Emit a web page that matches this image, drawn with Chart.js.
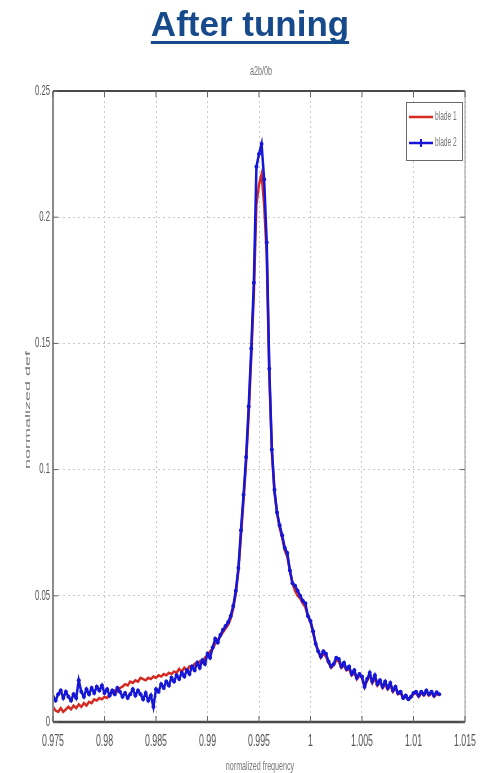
<!DOCTYPE html>
<html>
<head>
<meta charset="utf-8">
<script src="https://cdn.jsdelivr.net/npm/chart.js@4.4.0/dist/chart.umd.min.js"></script>
<style>
html, body { margin: 0; padding: 0; background: #fff; }
#wrap { position: relative; width: 483px; height: 773px; }
</style>
</head>
<body>
<div id="wrap"><canvas id="resonance" width="483" height="773"></canvas></div>
<script>
// normalized frequency samples
const freq = [
  0.97500, 0.97525, 0.97550, 0.97575, 0.97600, 0.97625, 0.97650, 0.97675, 0.97700, 0.97725,
  0.97750, 0.97775, 0.97800, 0.97825, 0.97850, 0.97875, 0.97900, 0.97925, 0.97950, 0.97975,
  0.98000, 0.98025, 0.98050, 0.98075, 0.98100, 0.98125, 0.98150, 0.98175, 0.98200, 0.98225,
  0.98250, 0.98275, 0.98300, 0.98325, 0.98350, 0.98375, 0.98400, 0.98425, 0.98450, 0.98475,
  0.98500, 0.98525, 0.98550, 0.98575, 0.98600, 0.98625, 0.98650, 0.98675, 0.98700, 0.98725,
  0.98750, 0.98775, 0.98800, 0.98825, 0.98850, 0.98875, 0.98900, 0.98925, 0.98950, 0.98975,
  0.99000, 0.99025, 0.99050, 0.99075, 0.99100, 0.99125, 0.99150, 0.99175, 0.99200, 0.99225,
  0.99250, 0.99275, 0.99300, 0.99325, 0.99350, 0.99375, 0.99400, 0.99425, 0.99450, 0.99475,
  0.99500, 0.99525, 0.99550, 0.99575, 0.99600, 0.99625, 0.99650, 0.99675, 0.99700, 0.99725,
  0.99750, 0.99775, 0.99800, 0.99825, 0.99850, 0.99875, 0.99900, 0.99925, 0.99950, 0.99975,
  1.00000, 1.00025, 1.00050, 1.00075, 1.00100, 1.00125, 1.00150, 1.00175, 1.00200, 1.00225,
  1.00250, 1.00275, 1.00300, 1.00325, 1.00350, 1.00375, 1.00400, 1.00425, 1.00450, 1.00475,
  1.00500, 1.00525, 1.00550, 1.00575, 1.00600, 1.00625, 1.00650, 1.00675, 1.00700, 1.00725,
  1.00750, 1.00775, 1.00800, 1.00825, 1.00850, 1.00875, 1.00900, 1.00925, 1.00950, 1.00975,
  1.01000, 1.01025, 1.01050, 1.01075, 1.01100, 1.01125, 1.01150, 1.01175, 1.01200, 1.01225,
  1.01250
];

// blade 1 (red)
const blade1 = [
  0.0060, 0.0045, 0.0040, 0.0055, 0.0040, 0.0050, 0.0060, 0.0050, 0.0065, 0.0055,
  0.0070, 0.0060, 0.0075, 0.0065, 0.0080, 0.0075, 0.0090, 0.0085, 0.0095, 0.0090,
  0.0100, 0.0095, 0.0110, 0.0115, 0.0125, 0.0120, 0.0135, 0.0140, 0.0150, 0.0145,
  0.0160, 0.0155, 0.0165, 0.0160, 0.0175, 0.0170, 0.0165, 0.0175, 0.0170, 0.0180,
  0.0175, 0.0185, 0.0180, 0.0190, 0.0185, 0.0195, 0.0190, 0.0200, 0.0195, 0.0210,
  0.0200, 0.0215, 0.0205, 0.0220, 0.0215, 0.0230, 0.0225, 0.0240, 0.0235, 0.0255,
  0.0265, 0.0280, 0.0290, 0.0310, 0.0325, 0.0340, 0.0355, 0.0370, 0.0385, 0.0410,
  0.0450, 0.0510, 0.0600, 0.0740, 0.0880, 0.1030, 0.1220, 0.1450, 0.1700, 0.2050,
  0.2130, 0.2170, 0.2050, 0.1850, 0.1380, 0.1070, 0.0910, 0.0830, 0.0770, 0.0730,
  0.0680, 0.0655, 0.0600, 0.0550, 0.0520, 0.0500, 0.0490, 0.0470, 0.0455, 0.0420,
  0.0395, 0.0355, 0.0310, 0.0280, 0.0255, 0.0270, 0.0260, 0.0235, 0.0215, 0.0225,
  0.0245, 0.0240, 0.0215, 0.0225, 0.0205, 0.0210, 0.0185, 0.0195, 0.0170, 0.0185,
  0.0175, 0.0140, 0.0165, 0.0185, 0.0155, 0.0175, 0.0145, 0.0160, 0.0135, 0.0150,
  0.0130, 0.0145, 0.0120, 0.0135, 0.0110, 0.0115, 0.0095, 0.0100, 0.0090, 0.0098,
  0.0110, 0.0115, 0.0100, 0.0115, 0.0105, 0.0120, 0.0105, 0.0115, 0.0100, 0.0112,
  0.0105
];

// blade 2 (blue, with markers)
const blade2 = [
  0.0100, 0.0085, 0.0110, 0.0125, 0.0095, 0.0120, 0.0100, 0.0085, 0.0110, 0.0095,
  0.0165, 0.0120, 0.0100, 0.0130, 0.0110, 0.0135, 0.0115, 0.0140, 0.0125, 0.0145,
  0.0115, 0.0130, 0.0105, 0.0125, 0.0110, 0.0135, 0.0120, 0.0100, 0.0115, 0.0095,
  0.0110, 0.0130, 0.0105, 0.0125, 0.0110, 0.0090, 0.0115, 0.0085, 0.0105, 0.0060,
  0.0130, 0.0120, 0.0150, 0.0135, 0.0160, 0.0145, 0.0175, 0.0160, 0.0185, 0.0170,
  0.0195, 0.0180, 0.0205, 0.0190, 0.0220, 0.0205, 0.0235, 0.0215, 0.0245, 0.0230,
  0.0270, 0.0255, 0.0295, 0.0330, 0.0315, 0.0345, 0.0365, 0.0380, 0.0395, 0.0420,
  0.0460, 0.0520, 0.0610, 0.0760, 0.0900, 0.1050, 0.1250, 0.1480, 0.1740, 0.2200,
  0.2250, 0.2290, 0.2150, 0.1900, 0.1400, 0.1080, 0.0920, 0.0830, 0.0780, 0.0740,
  0.0690, 0.0670, 0.0600, 0.0550, 0.0540, 0.0520, 0.0500, 0.0480, 0.0470, 0.0420,
  0.0400, 0.0360, 0.0310, 0.0280, 0.0260, 0.0280, 0.0270, 0.0240, 0.0220, 0.0230,
  0.0255, 0.0250, 0.0220, 0.0235, 0.0210, 0.0220, 0.0190, 0.0205, 0.0175, 0.0190,
  0.0180, 0.0140, 0.0170, 0.0195, 0.0160, 0.0185, 0.0150, 0.0165, 0.0140, 0.0160,
  0.0135, 0.0155, 0.0125, 0.0140, 0.0115, 0.0120, 0.0095, 0.0105, 0.0090, 0.0100,
  0.0115, 0.0120, 0.0105, 0.0120, 0.0110, 0.0125, 0.0110, 0.0120, 0.0105, 0.0118,
  0.0110
];

const xTicks = [0.975, 0.98, 0.985, 0.99, 0.995, 1, 1.005, 1.01, 1.015];
const xTickLabels = ['0.975', '0.98', '0.985', '0.99', '0.995', '1', '1.005', '1.01', '1.015'];
const yTicks = [0, 0.05, 0.1, 0.15, 0.2, 0.25];
const yTickLabels = ['0', '0.05', '0.1', '0.15', '0.2', '0.25'];
const seriesNames = ['blade 1', 'blade 2'];
const seriesColors = ['#d42a22', '#1616d6'];

const heading = 'After tuning';
const plotTitle = 'a2b/0b';
const xTitle = 'normalized frequency';
const yTitle = 'normalized def';

const AXIS_GREY = '#555';
const SQUEEZE = 0.55; // figure text is narrow, as in the exported plot

function narrowText(ctx, text, x, y, font, align, sx) {
  ctx.save();
  ctx.font = font;
  ctx.textAlign = align;
  ctx.textBaseline = 'middle';
  ctx.translate(x, y);
  ctx.scale(sx, 1);
  ctx.fillText(text, 0, 0);
  ctx.restore();
}

// frame, ticks, labels, titles, legend
const figureDecor = {
  id: 'figureDecor',
  afterDraw(chart) {
    const ctx = chart.ctx;
    const a = chart.chartArea;
    const xs = chart.scales.x, ys = chart.scales.y;

    // axes box
    ctx.save();
    ctx.lineWidth = 2;
    ctx.strokeStyle = '#8c8c8c';
    ctx.beginPath(); ctx.moveTo(a.left, a.top); ctx.lineTo(a.left, a.bottom); ctx.stroke();
    ctx.strokeStyle = '#4a4a4a';
    ctx.beginPath(); ctx.moveTo(a.left, a.top); ctx.lineTo(a.right, a.top); ctx.stroke();
    ctx.lineWidth = 2.5;
    ctx.beginPath(); ctx.moveTo(a.left, a.bottom); ctx.lineTo(a.right, a.bottom); ctx.stroke();
    ctx.lineWidth = 1;
    ctx.strokeStyle = '#9a9a9a';
    ctx.beginPath(); ctx.moveTo(a.right, a.top); ctx.lineTo(a.right, a.bottom); ctx.stroke();

    // inward tick marks
    ctx.strokeStyle = '#666';
    ctx.lineWidth = 1;
    xTicks.forEach(v => {
      const px = xs.getPixelForValue(v);
      ctx.beginPath();
      ctx.moveTo(px, a.bottom); ctx.lineTo(px, a.bottom - 6);
      ctx.moveTo(px, a.top); ctx.lineTo(px, a.top + 6);
      ctx.stroke();
    });
    yTicks.forEach(v => {
      const py = ys.getPixelForValue(v);
      ctx.beginPath();
      ctx.moveTo(a.left, py); ctx.lineTo(a.left + 5, py);
      ctx.moveTo(a.right, py); ctx.lineTo(a.right - 5, py);
      ctx.stroke();
    });
    ctx.restore();

    // tick labels
    ctx.save();
    ctx.fillStyle = AXIS_GREY;
    xTicks.forEach((v, i) => {
      narrowText(ctx, xTickLabels[i], xs.getPixelForValue(v), a.bottom + 20,
        '16px "Liberation Sans", Arial, sans-serif', 'center', SQUEEZE);
    });
    yTicks.forEach((v, i) => {
      narrowText(ctx, yTickLabels[i], a.left - 3, ys.getPixelForValue(v),
        '14px "Liberation Sans", Arial, sans-serif', 'right', SQUEEZE);
    });

    // axis titles and plot title
    ctx.fillStyle = '#777';
    narrowText(ctx, xTitle, (a.left + a.right) / 2 + 1, a.bottom + 44,
      '13px "Liberation Sans", Arial, sans-serif', 'center', SQUEEZE);
    narrowText(ctx, plotTitle, (a.left + a.right) / 2 + 2, 71,
      '13px "Liberation Sans", Arial, sans-serif', 'center', SQUEEZE);

    ctx.save();
    ctx.font = '18px "Liberation Sans", Arial, sans-serif';
    ctx.textAlign = 'center';
    ctx.textBaseline = 'middle';
    ctx.translate(28, 410);
    ctx.scale(0.45, 1);
    ctx.rotate(-Math.PI / 2);
    ctx.fillText(yTitle, 0, 0);
    ctx.restore();
    ctx.restore();

    // heading
    ctx.save();
    ctx.font = 'bold 35px "Liberation Sans", Arial, sans-serif';
    ctx.fillStyle = '#174a8b';
    ctx.textAlign = 'center';
    ctx.textBaseline = 'alphabetic';
    const hx = 250;
    ctx.fillText(heading, hx, 36);
    const hw = ctx.measureText(heading).width;
    ctx.fillRect(hx - hw / 2, 41, hw, 3);
    ctx.restore();

    // legend
    const lx = 406, ly = 102, lw = 56, lh = 58;
    ctx.save();
    ctx.fillStyle = '#fff';
    ctx.fillRect(lx, ly, lw, lh);
    ctx.strokeStyle = '#6a6a6a';
    ctx.lineWidth = 1;
    ctx.strokeRect(lx + 0.5, ly + 0.5, lw, lh);
    seriesNames.forEach((name, i) => {
      const yy = ly + 15 + i * 26;
      ctx.strokeStyle = seriesColors[i];
      ctx.lineWidth = 2.5;
      ctx.beginPath(); ctx.moveTo(lx + 3, yy); ctx.lineTo(lx + 27, yy); ctx.stroke();
      if (i === 1) {
        ctx.lineWidth = 2;
        ctx.beginPath(); ctx.moveTo(lx + 15, yy - 4); ctx.lineTo(lx + 15, yy + 4); ctx.stroke();
      }
      ctx.fillStyle = '#777';
      narrowText(ctx, name, lx + 29, yy, '12px "Liberation Sans", Arial, sans-serif', 'left', SQUEEZE);
    });
    ctx.restore();
  }
};

const points = series => freq.map((f, i) => ({ x: f, y: series[i] }));

new Chart(document.getElementById('resonance'), {
  type: 'line',
  data: {
    datasets: [
      {
        label: seriesNames[0],
        data: points(blade1),
        borderColor: seriesColors[0],
        borderWidth: 2.5,
        pointRadius: 0,
        tension: 0,
        order: 1
      },
      {
        label: seriesNames[1],
        data: points(blade2),
        borderColor: seriesColors[1],
        backgroundColor: seriesColors[1],
        borderWidth: 2.5,
        pointRadius: 2,
        pointBorderWidth: 0,
        tension: 0,
        order: 0
      }
    ]
  },
  options: {
    responsive: false,
    animation: false,
    devicePixelRatio: 1,
    layout: { padding: { top: 91, right: 18, left: 0, bottom: 0 } },
    plugins: { legend: { display: false }, tooltip: { enabled: false } },
    scales: {
      x: {
        type: 'linear',
        min: 0.975,
        max: 1.015,
        afterBuildTicks: s => { s.ticks = xTicks.map(v => ({ value: v })); },
        afterFit: s => { s.height = 51; },
        ticks: { display: false },
        grid: { color: '#c8c8c8', lineWidth: 1, drawTicks: false },
        border: { display: false, dash: [2, 3] }
      },
      y: {
        min: 0,
        max: 0.25,
        afterBuildTicks: s => { s.ticks = yTicks.map(v => ({ value: v })); },
        afterFit: s => { s.width = 53; },
        ticks: { display: false },
        grid: { color: '#c8c8c8', lineWidth: 1, drawTicks: false },
        border: { display: false, dash: [2, 3] }
      }
    }
  },
  plugins: [figureDecor]
});
</script>
</body>
</html>
